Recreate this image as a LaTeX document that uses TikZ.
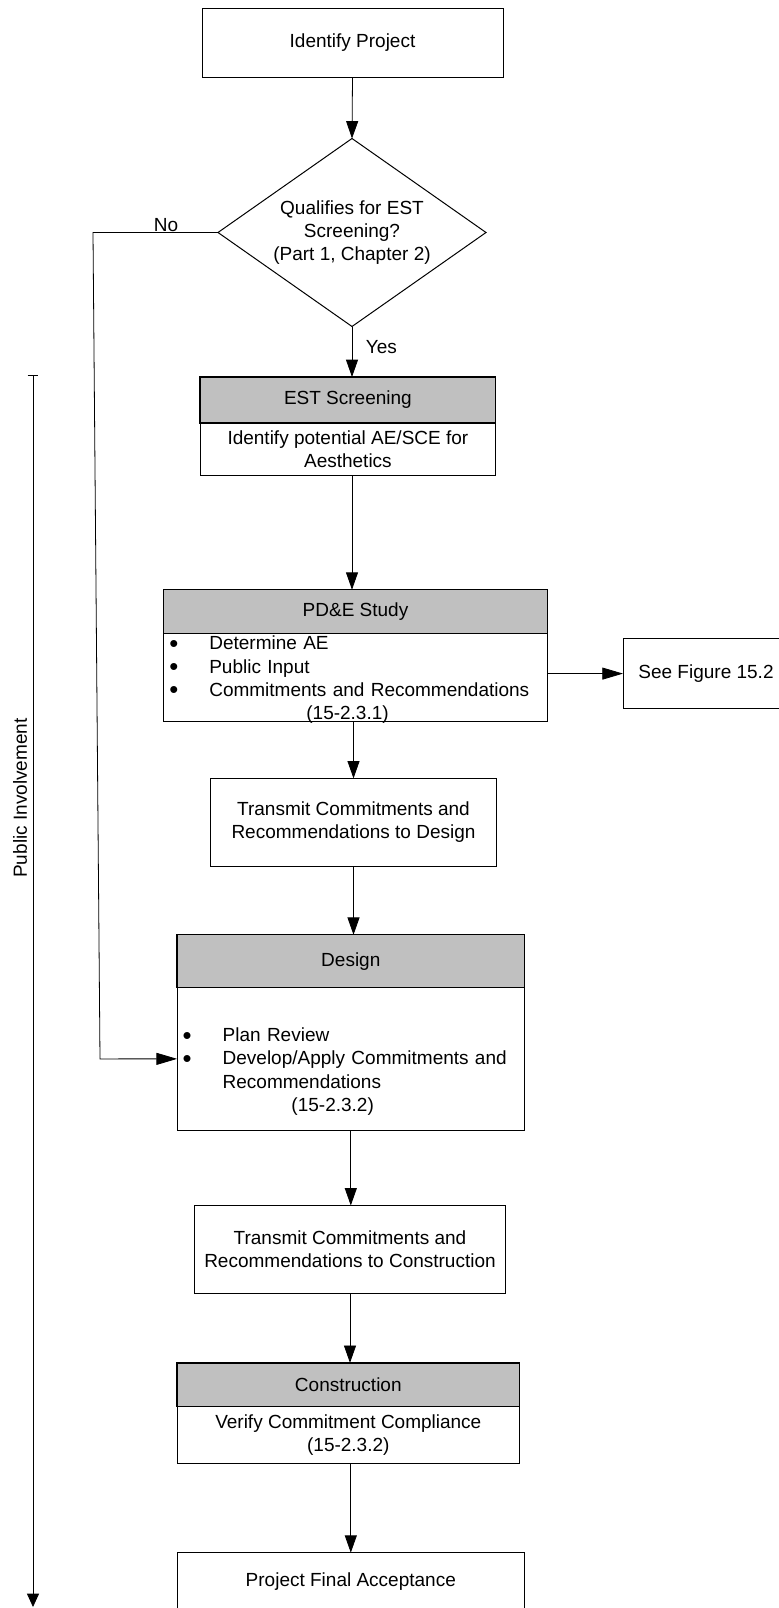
\documentclass[tikz,border=0pt]{standalone}
\usepackage{fontspec}
\setmainfont{Liberation Sans}
\usetikzlibrary{positioning,shapes.geometric,arrows.meta}
\definecolor{headgray}{HTML}{C0C0C0}
\newcommand{\px}{0.75pt}
\newcommand{\flowfont}{\fontsize{14.25}{17.3}\selectfont}
\newcommand{\bulletgap}{30pt}
\newcommand{\pderefshift}{102.8pt}
\newcommand{\desrefshift}{81.6pt}
\newcommand{\itembullet}{\makebox[\bulletgap][l]{\raisebox{-1.7pt}{\scalebox{1.35}{\textbullet}}}}
\newcommand{\nobranchx}{93}
\newcommand{\nobranchlowx}{100}
\newcommand{\pubx}{33}
\newcommand{\pubtop}{375}
\newcommand{\pubbottom}{1607}

\begin{document}
\begin{tikzpicture}[x=\px,y=-\px,font=\flowfont]
\tikzstyle{stepbox}=[draw,line width=0.75pt,outer sep=0pt,inner sep=0pt,align=center]
\tikzstyle{headbox}=[stepbox,fill=headgray,line width=1pt]
\tikzstyle{listbox}=[stepbox,align=left,inner xsep=4.2pt]
\tikzstyle{decision}=[diamond,draw,line width=0.75pt,aspect=1.43,inner sep=0pt,outer sep=0pt,align=center]
\tikzstyle{flow}=[line width=0.6pt,-{Triangle[length=13pt,width=9pt]}]
\tikzstyle{sideflow}=[line width=0.6pt,-{Triangle[length=15.5pt,width=9pt]}]

\useasboundingbox (0,0) rectangle (778,1608);

%% start and decision
\node (ident) [stepbox, minimum width=301*\px, minimum height=68.7*\px] at (352.5,43) {Identify Project};
\node (qual) [decision, minimum width=268*\px, minimum height=188*\px] at (352,232.5) {Qualifies for EST\\Screening?\\(Part 1, Chapter 2)};

%% EST screening
\node (esthead) [headbox, minimum width=295.7*\px, minimum height=46*\px] at (347.9,400) {EST Screening};
\node (estbody) [stepbox, minimum width=295.7*\px, minimum height=52.3*\px, below=0pt of esthead] {Identify potential AE/SCE for\\Aesthetics};

%% PD&E study
\node (pdehead) [headbox, minimum width=383.6*\px, minimum height=43.6*\px] at (355.5,611.5) {PD\&E Study};
\node (pdebody) [listbox, text width=279.3pt, minimum height=87.7*\px, below=0pt of pdehead] {\rule{0pt}{11.1pt}\itembullet Determine AE\\
  \itembullet Public Input\\
  \itembullet Commitments and Recommendations\\
  \hspace*{\pderefshift}\raisebox{0pt}[\height][0pt]{(15-2.3.1)}};
\node (seefig) [stepbox, minimum width=166*\px, minimum height=69.5*\px] at (706,673.6) {See Figure 15.2};

\node (trans1) [stepbox, minimum width=286.3*\px, minimum height=87.6*\px] at (353.5,822.2) {Transmit Commitments and\\Recommendations to Design};

%% design
\node (deshead) [headbox, minimum width=347.4*\px, minimum height=52.8*\px] at (350.8,961.2) {Design};
\node (desbody) [listbox, text width=252.2pt, minimum height=142.5*\px, below=0pt of deshead] {\strut\\
  \itembullet Plan Review\\
  \itembullet Develop/Apply Commitments and\\
  \hspace*{\bulletgap}Recommendations\\
  \hspace*{\desrefshift}(15-2.3.2)};

\node (trans2) [stepbox, minimum width=311.1*\px, minimum height=88.2*\px] at (350,1249.6) {Transmit Commitments and\\Recommendations to Construction};

%% construction
\node (conshead) [headbox, minimum width=342.4*\px, minimum height=43.6*\px] at (348.3,1384.7) {Construction};
\node (consbody) [stepbox, minimum width=342.4*\px, minimum height=56.9*\px, below=0pt of conshead] {Verify Commitment Compliance\\(15-2.3.2)};

\node (final) [stepbox, minimum width=347.5*\px, minimum height=58.6*\px] at (350.8,1582) {Project Final Acceptance};

%% main flow
\draw[flow] (ident.south) -- (qual.north);
\draw[flow] (qual.south) -- (qual.south |- esthead.north);
\node (yeslabel) [anchor=west, inner sep=0pt] at (365.7,346.6) {Yes};
\draw[flow] (estbody.south -| qual.south) -- (qual.south |- pdehead.north);
\draw[flow] (trans1.north |- pdebody.south) -- (trans1.north);
\draw[sideflow] (seefig.west -| pdebody.east) -- (seefig.west);
\draw[flow] (trans1.south) -- (trans1.south |- deshead.north);
\draw[flow] (desbody.south) -- (desbody.south |- trans2.north);
\draw[flow] (trans2.south) -- (trans2.south |- conshead.north);
\draw[flow] (final.north |- consbody.south) -- (final.north);

%% no branch
\coordinate (noup) at (\nobranchx,232.5);
\coordinate (nodown) at (\nobranchlowx,1058.9);
\draw[sideflow] (qual.west) -- (noup) -- (nodown) -- (desbody.west);
\node (nolabel) at (166,224.6) {No};

%% public involvement
\coordinate (pubstart) at (\pubx,\pubtop);
\coordinate (pubend) at (\pubx,\pubbottom);
\draw[line width=0.6pt,{Bar[width=8.2pt]}-{Triangle[length=10pt,width=9pt]}] (pubstart) -- (pubend);
\node (publabel) [rotate=90] at (20,798) {Public Involvement};

\end{tikzpicture}
\end{document}
